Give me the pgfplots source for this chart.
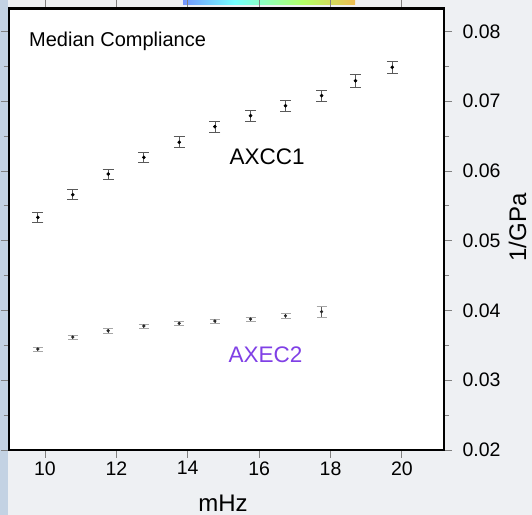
\documentclass[border=0pt]{standalone}
\usepackage{pgfplots}
\pgfplotsset{compat=1.18}
\usepackage{fontspec}
\setmainfont{Liberation Sans}
\definecolor{bgc}{HTML}{EEF0F3}
\definecolor{leftstrip}{HTML}{C3D2E3}
\definecolor{purp}{RGB}{128,64,230}
\pgfdeclarehorizontalshading{cbar}{100bp}{color(0bp)=(blue!75!black); color(20bp)=(blue!55); color(40bp)=(cyan!55); color(60bp)=(green!50!yellow!60); color(80bp)=(orange!70); color(100bp)=(orange!25)}
\pgfplotstableread{
x y e
9.80  0.05336 0.0007
10.78 0.05660 0.0007
11.77 0.05957 0.0007
12.77 0.06196 0.0007
13.76 0.06412 0.0008
14.76 0.06635 0.0008
15.76 0.06793 0.0008
16.74 0.06936 0.0008
17.75 0.07080 0.0008
18.70 0.07295 0.0009
19.73 0.07487 0.0009
}\axcc
\pgfplotstableread{
x y e
9.80  0.03448 0.0003
10.78 0.03620 0.0003
11.77 0.03710 0.0004
12.77 0.03778 0.0003
13.76 0.03816 0.0003
14.76 0.03849 0.0003
15.76 0.03878 0.0003
16.74 0.03925 0.0003
17.75 0.03983 0.0008
}\axec
\begin{document}
\begin{tikzpicture}[x=1bp,y=1bp]
\fill[bgc] (0,0) rectangle (532,515);
\fill[leftstrip] (0,0) rectangle (8,515);
\shade[shading=cbar] (183,510) rectangle (355,515);
\useasboundingbox (0,0) rectangle (532,515);
\begin{axis}[
  at={(9bp,65bp)}, anchor=south west,
  scale only axis, width=435bp, height=441.5bp,
  xmin=8.992, xmax=21.18, ymin=0.02, ymax=0.0833,
  axis background/.style={fill=white},
  axis line style={line width=2.5bp, black},
  tick align=outside,
  major tick length=8bp, minor tick length=5bp,
  every tick/.style={line width=0.8bp, black!50},
  xtick={10,12,14,16,18,20},
  xticklabels={\raisebox{-6bp}{10},\raisebox{-6bp}{12},\raisebox{-6bp}{14},\raisebox{-6bp}{16},\raisebox{-6bp}{18},\raisebox{-6bp}{20}},
  ytick={0.02,0.03,0.04,0.05,0.06,0.07,0.08},
  minor ytick={0.025,0.035,0.045,0.055,0.065,0.075},
  yticklabel pos=right,
  scaled y ticks=false,
  y tick label style={/pgf/number format/fixed, /pgf/number format/fixed zerofill, /pgf/number format/precision=2},
  /pgf/number format/assume math mode=true,
  ticklabel style={font=\fontsize{19.5bp}{20bp}\selectfont},
  yticklabel style={xshift=7bp},
  xlabel={mHz}, ylabel={1/GPa},
  label style={font=\fontsize{24bp}{25bp}\selectfont},
  xlabel style={at={(axis description cs:0.492,-0.1382)}, anchor=base},
  ylabel style={at={(axis description cs:1.1885,0.504)}, anchor=base},
  error bars/y dir=both, error bars/y explicit,
  error bars/error bar style={line width=0.7bp, black!65},
  error bars/error mark options={line width=0.7bp, black!65, mark size=5.5bp, rotate=90},
  clip=false,
]
\addplot[only marks, mark=*, mark size=1.6bp, black] table[x=x, y=y, y error=e] {\axcc};
\addplot[only marks, mark=*, mark size=1.4bp, black!85, error bars/error mark options={line width=0.6bp, black!35, mark size=5bp, rotate=90}] table[x=x, y=y, y error=e] {\axec};
\end{axis}
\node[anchor=base west, inner sep=0, font=\fontsize{20bp}{21bp}\selectfont] at (29,468.3) {Median Compliance};
\node[anchor=base west, inner sep=0, font=\fontsize{22.5bp}{23bp}\selectfont] at (229.3,350.7) {AXCC1};
\node[anchor=base west, inner sep=0, font=\fontsize{22.5bp}{23bp}\selectfont, text=purp] at (228.3,152.7) {AXEC2};
\end{tikzpicture}
\end{document}
